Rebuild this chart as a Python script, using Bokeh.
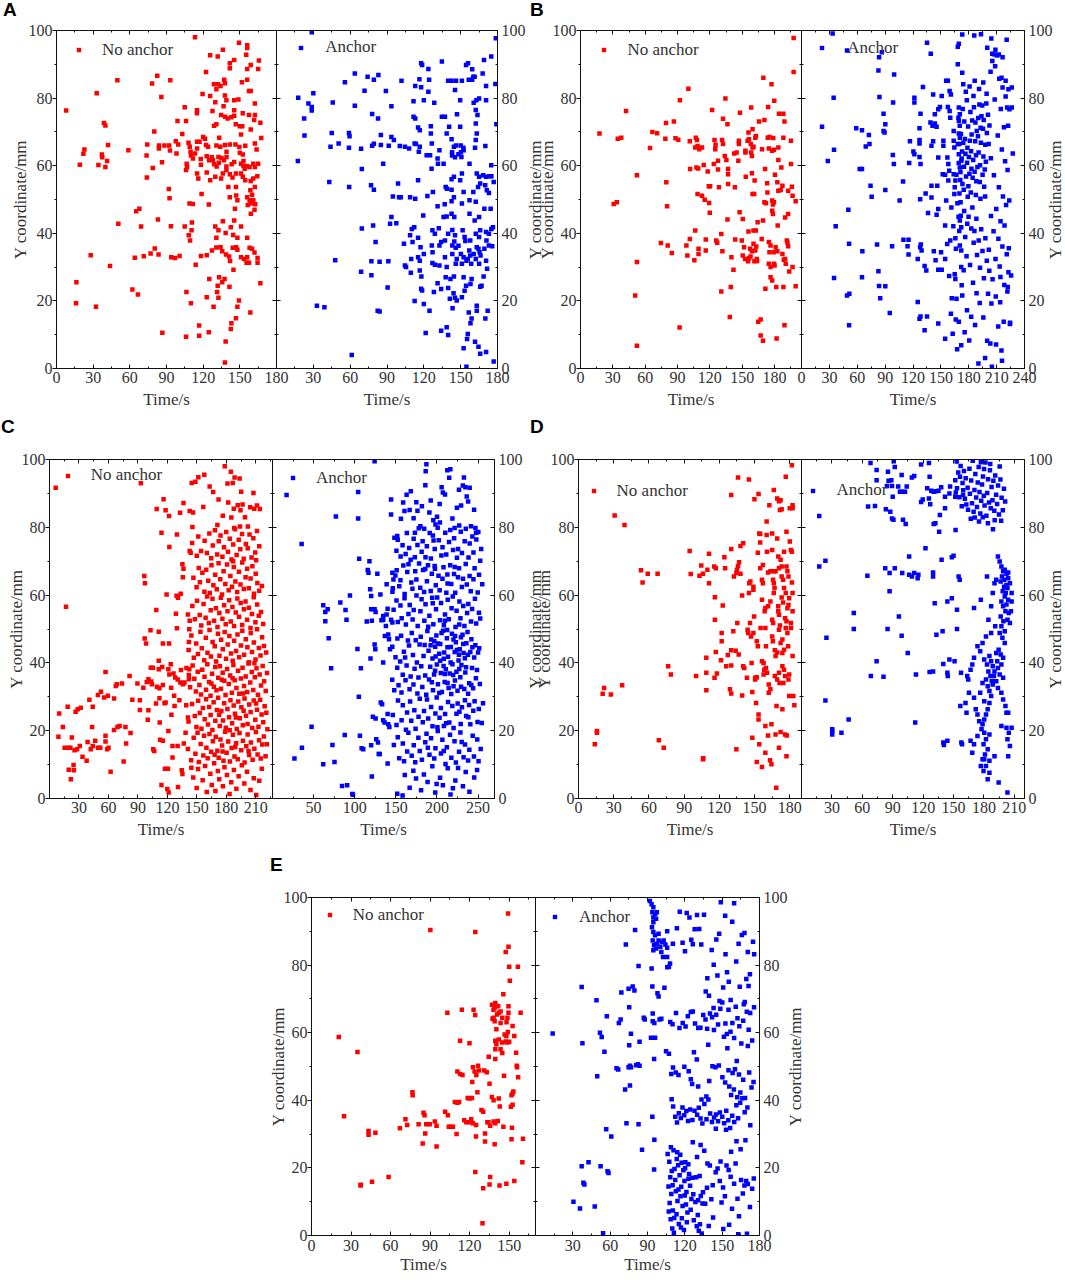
import math
from bokeh.plotting import figure
from bokeh.models import Range1d, LinearAxis, SingleIntervalTicker, FixedTicker, Legend, LegendItem, Spacer, Div
from bokeh.layouts import row, column
from bokeh.embed import file_html
from bokeh.resources import INLINE

SERIES_LABELS = ["No anchor", "Anchor"]
PANEL_LETTERS = ["A", "B", "C", "D", "E"]
X_TITLE = "Time/s"
Y_TITLE = "Y coordinate/mm"

# ---------------- data (Time/s, Y coordinate/mm) ----------------
A_NO = [(7.9,76.3),(16.3,25.5),(16.0,19.3),(19.1,60.3),(22.0,63.5),(22.8,64.8),(28.0,33.5),(32.3,18.3),(32.9,81.4),(34.3,60.2),(37.4,62.5),(37.1,63.3),(38.8,72.6),(40.0,71.9),(40.0,59.6),(41.4,61.4),(42.2,66.1),(43.8,30.3),(49.8,85.3),(50.6,42.8),(58.8,64.6),(62.1,23.4),(64.1,32.8),(65.2,46.5),(66.6,21.9),(67.8,47.3),(69.2,42.0),(71.4,33.2),(73.7,63.0),(73.9,56.5),(74.2,66.3),(77.0,34.0),(78.2,84.3),(78.8,59.3),(80.0,70.1),(80.4,35.5),(82.4,86.6),(83.0,44.1),(83.5,33.7),(83.8,66.0),(83.8,65.1),(85.8,80.3),(86.3,61.0),(86.6,10.6),(88.3,66.0),(91.9,53.1),(92.2,66.0),(92.5,50.4),(92.8,64.5),(93.1,85.3),(93.6,42.1),(93.9,32.9),(97.0,32.7),(97.6,67.2),(98.2,63.6),(99.0,73.2),(99.6,66.3),(100.7,33.3),(102.9,69.4),(104.9,77.3),(104.9,42.0),(106.0,73.2),(106.0,9.4),(106.3,22.6),(106.5,60.6),(106.8,59.6),(106.0,58.7),(108.0,66.8),(108.8,48.8),(108.2,39.4),(109.0,65.6),(109.7,64.1),(109.3,37.9),(110.0,63.0),(110.0,19.3),(110.8,43.2),(110.5,40.9),(111.6,62.1),(111.6,48.7),(113.3,98.0),(113.3,63.6),(113.9,30.7),(115.0,76.4),(114.9,75.5),(115.0,67.1),(115.0,65.1),(115.0,57.7),(116.0,56.2),(116.7,12.7),(116.7,9.7),(117.0,67.1),(118.0,62.0),(118.2,60.3),(118.2,33.3),(118.7,51.6),(119.5,81.2),(120.0,68.5),(121.5,68.0),(122.3,87.7),(122.3,66.1),(122.9,62.8),(122.9,58.0),(122.9,33.5),(122.9,21.1),(124.0,65.6),(124.6,48.5),(124.6,10.7),(124.9,61.6),(125.7,92.7),(125.7,80.6),(125.7,55.7),(125.0,26.5),(127.0,62.5),(127.2,34.9),(127.6,76.2),(128.0,61.6),(128.5,18.3),(128.8,84.1),(128.9,71.8),(129.0,60.4),(129.9,78.8),(129.9,56.7),(129.9,42.0),(130.8,82.6),(130.8,72.3),(130.8,66.0),(130.8,38.7),(130.8,35.8),(131.0,59.8),(131.4,22.6),(131.9,92.3),(131.9,24.5),(132.2,84.1),(132.5,62.6),(132.5,40.9),(132.5,20.9),(132.8,60.9),(133.0,27.0),(133.1,68.3),(134.0,65.6),(134.2,83.6),(134.2,35.9),(134.7,75.0),(134.7,56.2),(135.0,62.3),(135.6,34.7),(135.6,25.5),(136.1,94.3),(136.1,57.7),(136.1,43.6),(136.7,77.6),(137.0,61.6),(137.2,85.4),(137.5,26.5),(137.8,84.4),(137.8,80.8),(137.8,66.1),(137.8,1.8),(138.0,74.5),(138.4,40.1),(138.4,8.0),(138.7,33.7),(139.0,79.4),(139.1,64.1),(139.1,62.6),(139.0,59.8),(139.0,58.7),(140.0,74.0),(140.6,53.7),(141.2,33.1),(141.5,24.2),(141.8,90.3),(141.8,88.8),(141.8,66.3),(141.8,57.5),(141.8,50.7),(142.0,31.8),(142.6,41.8),(142.6,11.7),(143.0,74.3),(143.1,13.4),(143.3,60.4),(144.0,56.5),(144.2,35.7),(144.5,39.5),(144.8,29.2),(145.4,91.3),(145.4,79.4),(145.4,76.4),(145.4,74.8),(145.4,61.1),(145.4,43.8),(146.0,47.3),(146.4,66.3),(146.7,72.3),(146.8,57.7),(146.8,53.7),(146.8,14.9),(147.0,51.2),(147.0,35.9),(148.0,49.8),(148.0,38.7),(148.0,35.1),(148.0,18.3),(148.8,79.6),(149.3,20.1),(149.3,96.4),(149.6,65.5),(150.0,71.7),(150.0,63.8),(151.0,69.2),(151.0,60.6),(151.0,57.7),(151.0,42.0),(151.0,32.9),(151.7,84.7),(152.0,71.7),(152.4,75.5),(152.4,63.3),(152.4,56.7),(153.0,61.4),(153.0,59.9),(153.6,32.4),(154.0,59.1),(154.4,65.9),(154.4,55.7),(155.2,92.8),(155.5,31.3),(155.8,59.9),(156.0,95.6),(156.0,94.8),(156.0,88.6),(156.0,85.4),(156.0,50.7),(156.0,38.7),(156.0,32.9),(156.5,48.4),(157.5,82.1),(157.5,75.0),(157.5,31.3),(158.0,59.6),(158.0,49.8),(158.0,35.7),(158.6,52.7),(158.6,16.6),(158.9,89.8),(158.9,82.1),(158.9,70.7),(158.9,55.5),(158.9,48.8),(159.0,45.8),(160.0,51.4),(160.0,35.4),(161.0,60.6),(161.0,56.2),(161.0,49.8),(161.7,73.5),(162.0,47.0),(162.0,34.3),(162.3,78.4),(162.3,75.0),(162.3,66.6),(162.3,59.6),(162.3,53.7),(162.6,48.6),(163.7,64.8),(164.3,56.9),(164.5,31.3),(164.5,32.7),(165.0,88.6),(165.0,60.6),(165.6,91.1),(166.8,72.7),(166.8,25.2),(167.5,68.2)]

A_AN = [(17.7,80.1),(17.4,61.4),(22.5,74.0),(22.8,68.9),(26.0,78.4),(28.7,77.4),(28.7,76.3),(30.0,81.4),(28.7,99.5),(32.9,18.6),(39.0,18.1),(43.0,55.2),(45.0,69.7),(44.0,65.6),(45.8,78.7),(61.3,4.0),(47.8,32.0),(50.6,66.6),(55.7,84.7),(59.0,69.7),(59.5,68.7),(59.0,65.3),(59.2,53.7),(63.8,87.3),(63.8,77.7),(68.9,65.0),(69.5,59.0),(69.5,41.4),(68.9,28.6),(71.7,82.2),(74.2,86.3),(79.3,85.4),(83.0,86.8),(77.9,75.3),(77.9,65.9),(79.3,66.5),(77.0,54.2),(79.3,52.9),(78.7,42.3),(80.7,37.4),(77.3,31.7),(77.3,27.6),(82.7,74.0),(85.0,69.1),(85.0,66.1),(82.4,17.1),(84.0,16.9),(86.9,60.6),(84.0,31.6),(89.1,82.1),(91.4,65.9),(93.6,77.6),(93.6,68.5),(95.6,67.6),(93.6,44.8),(92.5,42.8),(90.5,24.0),(91.1,31.7),(94.8,50.9),(99.8,50.7),(97.6,43.0),(99.0,54.7),(100.4,65.8),(104.6,65.6),(101.8,85.1),(101.2,50.7),(103.8,36.9),(104.6,30.5),(105.5,30.0),(108.0,65.1),(108.8,50.7),(108.8,39.4),(110.2,41.3),(112.2,41.8),(109.7,32.4),(109.4,28.3),(110.8,37.4),(111.6,79.1),(111.6,74.5),(113.0,83.6),(113.0,74.0),(112.5,66.6),(113.6,66.4),(113.0,50.2),(112.5,20.0),(115.3,71.3),(116.7,70.5),(115.9,64.1),(116.7,65.6),(115.3,55.7),(115.3,38.7),(117.3,35.9),(115.3,32.9),(116.7,31.9),(116.7,29.0),(116.4,85.6),(117.8,83.2),(117.8,90.3),(118.6,89.8),(117.8,23.6),(118.6,23.1),(118.0,27.2),(120.0,19.1),(121.5,10.5),(119.5,45.3),(120.0,33.9),(120.0,79.4),(122.9,51.0),(122.3,63.1),(125.1,63.1),(123.7,81.9),(124.3,85.4),(123.7,88.6),(124.6,17.1),(125.7,71.7),(125.7,69.5),(126.3,59.1),(127.4,52.2),(126.5,66.6),(126.5,36.4),(127.1,34.4),(127.0,40.9),(129.0,39.9),(127.0,31.2),(129.0,30.7),(128.2,22.6),(128.5,78.6),(131.2,62.1),(131.5,60.6),(132.7,64.6),(131.2,48.0),(132.2,41.5),(132.7,36.4),(134.1,37.4),(132.7,30.5),(131.2,25.2),(134.1,23.5),(134.1,11.2),(134.7,74.5),(134.7,90.8),(136.1,60.6),(137.0,48.6),(138.6,45.0),(136.1,44.8),(137.8,53.7),(138.9,53.2),(137.2,74.5),(138.6,69.5),(137.2,37.9),(139.8,39.9),(137.2,32.9),(138.6,30.0),(137.8,27.0),(139.8,23.8),(141.2,20.6),(138.6,12.2),(139.8,9.9),(139.8,85.1),(142.6,85.1),(146.2,85.1),(140.6,71.5),(142.6,67.8),(144.5,65.6),(146.2,66.0),(143.0,64.0),(143.0,63.0),(145.4,62.5),(148.2,63.4),(150.2,64.0),(152.4,64.6),(150.0,66.0),(150.6,62.6),(152.2,65.3),(142.6,56.0),(144.5,56.7),(142.6,52.9),(142.6,49.5),(144.5,50.7),(142.6,45.8),(144.8,44.8),(143.2,41.0),(145.4,39.4),(144.8,37.6),(143.2,36.4),(146.0,35.7),(148.2,36.3),(143.2,33.9),(146.0,31.0),(146.8,32.4),(141.7,26.5),(144.5,27.2),(144.2,22.3),(145.4,20.9),(146.8,20.1),(143.4,17.8),(149.6,71.5),(147.0,75.2),(145.4,82.4),(149.6,79.4),(151.0,85.1),(151.0,57.7),(149.6,55.7),(152.4,52.2),(151.0,48.8),(151.6,40.9),(153.2,38.9),(153.8,37.7),(150.2,33.9),(152.4,32.9),(151.0,31.0),(154.7,31.9),(152.4,27.0),(154.4,24.5),(153.2,23.0),(151.0,21.1),(152.4,6.0),(154.4,89.8),(156.0,90.3),(156.6,85.4),(157.2,60.6),(157.2,49.8),(157.2,45.8),(157.8,37.9),(157.0,34.9),(157.8,33.4),(155.8,32.4),(158.6,31.0),(160.6,33.9),(158.9,26.5),(158.0,25.0),(156.6,16.6),(158.9,14.8),(158.0,13.4),(155.2,8.7),(155.8,10.2),(154.7,0.5),(159.4,88.5),(159.4,85.4),(160.3,86.3),(161.4,86.3),(160.6,78.6),(162.8,79.4),(165.0,79.9),(162.3,76.5),(163.7,75.0),(162.3,72.5),(163.1,69.5),(162.3,67.6),(161.7,65.3),(163.1,57.7),(165.0,56.7),(165.9,54.7),(164.2,53.7),(160.3,52.2),(162.3,49.3),(161.4,43.8),(165.0,44.8),(165.9,40.9),(162.3,39.9),(165.0,38.9),(163.1,35.9),(164.5,35.4),(165.4,34.4),(166.2,33.4),(162.3,32.4),(165.0,31.0),(165.9,24.2),(167.0,24.5),(163.1,18.6),(163.1,17.1),(161.7,7.9),(164.5,6.4),(165.9,4.4),(169.0,91.3),(167.9,87.3),(170.7,83.6),(170.7,79.4),(170.1,65.8),(168.4,57.2),(170.7,56.7),(173.5,56.9),(175.0,56.9),(170.0,54.2),(171.3,52.7),(173.0,51.9),(169.3,47.3),(174.4,47.3),(170.7,40.4),(173.0,39.9),(175.0,41.3),(171.0,37.9),(169.3,35.4),(173.0,36.4),(170.7,31.9),(171.5,29.5),(168.7,27.2),(170.1,14.8),(172.0,17.1),(170.7,4.9),(174.9,92.3),(178.6,97.7),(178.3,84.2),(179.1,72.3),(174.9,60.1),(176.9,55.2),(176.3,41.8),(175.7,36.2),(176.9,2.1)]

B_NO = [(17.6,69.5),(30.8,48.7),(33.7,49.2),(34.6,68.0),(37.8,68.3),(42.2,76.2),(50.7,21.6),(52.3,6.7),(52.3,31.5),(52.3,57.2),(64.5,65.2),(66.7,70.0),(71.1,69.6),(74.6,37.1),(79.3,72.6),(78.7,68.0),(79.6,55.1),(80.3,48.0),(80.9,36.4),(84.7,34.2),(86.6,73.1),(88.1,68.1),(90.7,67.7),(92.2,79.4),(91.9,12.1),(100.1,82.8),(101.4,67.2),(101.7,59.0),(98.2,36.4),(99.1,33.4),(101.4,38.3),(105.6,32.0),(106.4,40.8),(107.0,68.3),(108.0,67.6),(106.4,65.4),(108.6,65.8),(107.6,59.5),(109.2,59.2),(108.6,51.6),(112.7,51.1),(109.5,35.4),(109.5,33.9),(112.7,65.4),(110.2,64.9),(114.3,60.2),(115.2,49.9),(116.2,38.2),(116.2,34.9),(118.0,58.3),(119.0,53.9),(120.2,53.9),(119.3,49.0),(119.9,46.1),(122.1,76.5),(123.7,60.5),(124.3,67.6),(125.3,66.2),(125.0,64.9),(125.9,37.9),(126.8,37.2),(127.5,61.5),(127.5,58.9),(128.4,53.6),(130.6,22.8),(130.6,39.8),(131.6,34.7),(131.3,67.6),(132.2,66.4),(132.2,73.9),(134.4,79.9),(133.8,62.9),(135.3,61.7),(136.3,72.3),(136.9,59.0),(136.9,57.5),(136.9,54.6),(136.3,44.1),(138.5,15.2),(139.4,24.1),(140.0,32.9),(141.9,29.2),(142.6,63.6),(144.8,63.9),(143.2,53.6),(143.5,38.2),(146.4,61.5),(146.9,67.4),(146.9,66.4),(147.9,75.7),(147.6,46.2),(150.5,44.2),(149.6,37.9),(150.5,33.4),(152.7,32.4),(151.7,35.9),(153.3,56.7),(153.0,63.9),(153.0,64.4),(155.0,67.4),(156.3,67.8),(155.8,69.8),(155.8,40.5),(155.5,31.7),(156.4,32.6),(157.7,33.1),(157.4,35.4),(159.0,34.7),(158.0,66.4),(159.6,65.4),(158.3,63.9),(158.3,77.2),(159.6,70.8),(159.0,62.9),(159.0,57.8),(160.5,65.6),(162.1,68.3),(159.6,51.6),(161.1,51.6),(160.5,40.8),(160.5,36.9),(163.0,36.1),(162.1,34.9),(163.5,32.4),(161.3,31.7),(163.8,31.8),(161.5,55.6),(162.7,68.8),(164.3,43.3),(162.7,40.8),(164.9,13.8),(167.1,14.5),(165.6,73.1),(167.1,9.8),(169.3,8.2),(168.1,38.3),(168.4,64.9),(169.3,43.8),(170.6,49.2),(169.6,86.0),(170.6,73.5),(171.2,59.0),(171.5,23.6),(172.0,48.9),(173.4,52.1),(173.1,54.8),(173.7,68.3),(175.3,68.5),(174.0,77.4),(174.7,65.1),(174.7,37.4),(176.3,36.4),(175.3,34.4),(174.7,31.0),(176.3,30.0),(176.3,27.0),(177.8,26.0),(177.2,84.1),(177.8,49.7),(178.5,48.5),(179.4,49.2),(177.8,46.7),(178.5,45.7),(177.8,64.4),(179.4,64.7),(178.8,68.2),(179.7,79.2),(180.4,57.3),(181.0,35.9),(180.0,30.5),(179.4,31.0),(179.4,34.4),(182.6,34.7),(181.6,24.1),(181.9,8.9),(182.6,55.1),(183.5,52.6),(183.5,61.7),(182.9,42.3),(183.5,65.4),(184.1,75.4),(188.2,75.4),(185.7,52.8),(187.3,54.1),(186.3,59.5),(187.3,33.9),(188.6,32.2),(189.8,32.4),(189.2,73.1),(188.2,68.3),(188.2,24.1),(189.2,12.8),(189.8,44.7),(190.4,31.0),(191.4,37.9),(192.6,36.2),(192.0,37.2),(192.6,52.6),(192.6,45.7),(193.6,28.7),(195.2,60.5),(195.2,67.4),(196.1,53.8),(196.7,51.1),(196.7,30.0),(197.7,87.7),(197.7,97.8),(199.6,49.5),(199.6,24.3)]

B_AN = [(22.1,71.5),(28.3,61.4),(33.5,99.1),(34.6,80.1),(35.0,64.7),(35.0,26.8),(36.8,42.1),(49.0,94.1),(50.4,47.0),(49.0,21.6),(51.5,22.1),(51.2,36.9),(51.2,12.8),(58.9,71.1),(62.6,59.0),(65.1,59.0),(65.1,70.5),(65.1,27.0),(65.5,34.7),(69.2,65.7),(72.5,69.1),(73.2,66.4),(74.3,54.1),(75.5,50.8),(81.3,36.7),(82.8,88.2),(83.5,92.1),(83.9,80.3),(82.8,28.8),(83.5,24.4),(84.7,20.8),(86.5,93.6),(88.3,75.4),(88.3,70.3),(89.4,69.8),(90.2,72.3),(90.2,52.8),(90.2,24.3),(95.0,16.4),(98.3,63.2),(99.4,60.5),(99.7,87.0),(98.6,78.7),(97.5,36.2),(105.6,49.7),(109.3,55.3),(109.7,38.1),(114.1,36.2),(115.2,33.7),(115.2,38.1),(115.9,60.8),(116.7,67.2),(120.4,64.2),(121.5,63.4),(121.5,80.1),(121.5,78.7),(125.1,32.4),(125.1,19.7),(127.0,66.6),(127.0,67.6),(127.0,71.1),(128.1,75.4),(127.0,62.6),(128.1,60.5),(127.7,50.1),(127.7,35.9),(128.4,36.7),(129.2,34.9),(127.0,14.7),(128.1,15.4),(130.7,83.3),(132.5,30.3),(134.3,29.0),(132.5,11.3),(133.6,51.8),(135.1,96.4),(135.1,15.4),(136.2,46.0),(139.1,93.1),(139.9,54.1),(139.9,50.6),(139.9,65.9),(141.7,67.2),(138.8,72.8),(141.0,71.8),(143.5,72.5),(145.4,71.5),(141.7,81.1),(143.5,75.2),(142.4,34.7),(144.3,32.0),(145.4,45.5),(147.2,47.2),(146.1,54.1),(147.2,62.4),(147.2,29.2),(147.2,76.7),(149.0,77.4),(147.2,13.3),(150.2,34.4),(150.9,29.2),(150.9,80.6),(152.7,67.4),(152.7,65.9),(152.0,57.5),(154.6,57.3),(154.6,8.8),(155.7,85.1),(157.5,85.1),(154.6,42.3),(154.6,32.4),(155.7,49.7),(157.0,62.4),(158.0,60.5),(159.0,58.5),(158.0,55.6),(157.5,77.4),(159.4,76.2),(160.1,74.2),(159.4,82.1),(160.8,81.1),(160.1,37.9),(160.8,16.2),(162.7,10.3),(163.8,70.3),(163.8,67.4),(164.5,65.4),(163.8,57.5),(165.6,55.6),(164.9,53.6),(164.5,51.6),(165.6,26.5),(165.6,38.5),(166.8,20.6),(166.0,14.5),(167.5,5.7),(168.2,95.2),(169.3,96.1),(168.2,90.0),(169.3,77.2),(170.4,75.2),(169.3,73.3),(169.3,69.5),(170.4,68.3),(169.8,66.4),(169.3,63.4),(171.9,61.5),(170.4,59.5),(170.0,51.8),(171.2,49.2),(169.0,44.9),(170.4,43.8),(171.9,41.8),(170.4,36.4),(171.9,34.9),(171.9,30.0),(171.9,6.9),(173.0,21.6),(173.0,98.8),(173.0,87.5),(174.1,84.1),(227.4,63.6),(224.5,13.5),(225.6,27.5),(222.0,24.1),
(173.5,76.8),(175.2,73.1),(177.9,79.4),(179.3,71.6),(181.8,75.9),(183.1,69.2),(185.6,77.3),(187.2,72.8),(189.9,68.7),(191.4,78.1),(193.7,74.6),(195.3,70.9),(197.8,66.2),(171.6,69.4),(174.1,66.8),(176.4,63.5),(178.2,60.9),(180.7,57.6),(182.5,64.3),(184.8,61.7),(186.3,58.2),(188.1,55.4),(190.6,63.9),(192.2,60.1),(194.9,57.3),(196.6,53.8),(198.4,61.2),(168.9,74.2),(170.3,71.8),(172.8,64.2),(174.9,59.7),(177.1,56.8),(179.6,53.9),(181.2,67.4),(183.7,73.4),(185.1,80.6),(187.8,63.1),(189.3,59.6),(191.9,55.2),(193.1,66.8),(195.8,62.7),(197.2,58.9),(199.5,69.7),(166.7,57.3),(169.2,60.8),(171.1,58.1),(173.2,54.6),(175.9,67.9),(178.6,65.3),(180.1,62.6),(182.9,59.1),(184.2,56.4),(186.9,67.2),(188.6,70.3),(190.2,74.1),(192.8,71.2),(194.4,77.8),(196.1,73.5),(198.9,78.4),(200.7,75.1),(202.3,71.9),(201.4,66.4),(203.8,62.2),(176.8,81.9),(180.9,83.4),(186.4,85.1),(191.1,82.7),(195.6,84.6),(199.2,81.3),(168.3,66.4),(172.4,62.1),(170.9,55.8),(174.6,52.9),(178.9,50.8),(182.2,52.1),(187.6,51.3),(192.6,50.2),(197.6,50.9),
(205.2,93.1),(208.4,89.4),(210.6,92.6),(203.5,87.8),(212.8,85.7),(216.4,83.1),(219.7,80.5),(221.3,77.2),(214.5,76.8),(207.9,79.6),(217.9,71.4),(222.4,71.8),(211.2,68.9),(215.6,64.8),(219.1,61.3),(221.8,58.7),(207.1,57.2),(212.4,53.6),(216.8,50.9),(220.2,48.4),(223.6,49.7),(209.6,47.2),(203.9,45.1),(214.2,43.6),(218.5,42.3),(206.7,40.6),(211.9,38.4),(216.2,36.1),(220.9,33.8),(223.1,35.6),(208.8,32.4),(213.3,30.2),(202.1,28.9),(205.6,26.4),(218.3,24.7),(221.6,22.8),(209.1,21.3),(213.8,19.6),(204.4,19.2),(200.8,22.1),(196.3,26.7),(192.1,29.8),(188.9,33.6),(185.3,37.2),(182.7,41.4),(179.8,44.9),(183.9,47.6),(188.2,44.3),(193.4,41.2),(197.9,38.5),(201.6,35.1),(199.4,31.9),(194.8,34.8),(190.7,37.9),(186.1,40.7),(181.4,30.6),(177.6,33.2),(176.2,38.9),(178.4,42.8),(175.1,46.6),(184.6,25.4),(188.4,22.3),(191.8,19.4),(195.7,15.1),(199.8,8.2),(203.2,7.4),(209.4,7.1),(215.2,5.3),(215.8,2.3),(197.6,3.1),(190.4,1.5),(204.9,0.5),(211.7,12.4),(217.6,13.8),(224.3,13.2),(222.7,28.5),(214.1,27.1),(178.1,17.2),(182.6,15.3),(186.8,12.9),(175.6,10.7),(180.5,8.3),(169.3,13.8),(172.4,24.6),(174.5,29.1),(166.2,35.4),(169.8,40.7),(171.4,45.2),(167.8,48.9),(163.4,42.1),(161.3,47.6),(164.9,27.9),(161.7,20.8),(158.9,27.4),(156.8,36.8),
(185.9,98.5),(193.2,98.9),(199.9,94.9),(208.7,94.3),(207.9,92.9),(212.4,92.9),(216.4,92.1),(220.8,97.3),(204.3,97.6),(205.4,91.0),(215.3,86.0),(219.7,85.1),(222.7,82.6),(226.3,83.1),(223.8,76.7),(226.3,77.2)]

C_NO = [(6.3,91.7),(16.8,56.6),(9.8,25.1),(9.1,18.2),(13.6,21.1),(15.4,15.0),(18.9,15.0),(21.3,15.0),(18.5,27.1),(19.6,8.5),(21.7,5.7),(22.7,18.0),(24.5,9.9),(24.8,8.3),(26.6,25.6),(28.7,26.3),(31.8,26.8),(25.5,14.2),(28.0,14.5),(30.8,15.5),(33.6,12.3),(37.8,11.1),(38.8,16.7),(42.0,14.5),(44.0,15.5),(40.6,29.1),(43.4,21.1),(44.0,27.1),(46.5,17.0),(49.3,15.0),(51.7,15.0),(49.3,30.5),(52.4,31.5),(55.6,29.8),(57.0,18.5),(57.0,16.8),(58.7,14.5),(60.1,15.0),(57.0,37.3),(62.2,7.9),(59.4,30.3),(65.7,29.5),(67.5,33.2),(68.5,33.7),(65.7,20.2),(69.2,21.1),(71.3,21.4),(73.8,33.9),(75.5,10.9),(78.0,16.2),(77.3,21.1),(81.5,36.1),(82.5,19.3),(84.3,29.1),(89.5,33.9),(92.0,26.1),(92.0,29.0),(93.0,93.0),(95.5,32.7),(96.5,65.6),(97.2,63.5),(96.9,47.2),(98.3,45.7),(100.0,23.2),(100.7,26.0),(99.0,34.4),(100.7,35.2),(103.5,34.5),(102.8,49.6),(103.1,38.6),(105.2,38.6),(104.2,33.7),(105.6,14.5),(106.6,14.0),(108.4,28.0),(108.7,55.6),(109.1,85.4),(109.4,33.0),(111.9,32.5),(111.2,49.2),(111.2,40.6),(111.2,38.1),(111.9,29.6),(112.2,22.4),(112.6,17.3),(114.0,78.4),(114.0,4.0),(115.4,45.7),(114.7,38.8),(115.4,17.0),(115.4,33.5),(116.1,88.3),(117.1,28.1),(118.2,28.3),(117.5,8.8),(120.6,8.8),(118.2,85.0),(119.2,60.2),(119.9,2.8),(121.3,1.8),(121.0,19.9),(121.7,83.3),(121.7,45.7),(122.0,74.2),(121.0,38.1),(122.0,36.6),(123.4,39.6),(123.8,32.7),(124.1,24.7),(125.2,15.5),(125.2,12.1),(126.2,36.9),(128.0,35.7),(126.9,30.3),(127.3,27.3),(128.7,54.5),(129.4,59.8),(130.8,59.2),(129.7,77.9),(129.7,50.2),(130.4,15.5),(130.8,3.4),(132.2,29.0),(133.2,34.2),(132.9,84.3),(133.6,60.4),(134.6,8.3),(135.3,7.2),(135.3,69.1),(136.4,67.8),(135.7,65.3),(136.4,87.2),(135.7,33.7),(137.4,34.2),(136.7,16.2),(138.5,19.4),(139.2,27.5),(140.9,54.3),(142.7,52.4),(140.9,23.9),(142.3,49.9),(141.9,46.2),(142.3,38.1),(141.9,35.2),(142.7,84.8),(142.7,73.0),(143.7,72.5),(144.4,9.1),(144.8,93.1),(145.5,80.1),
(146.3,6.2),(149.8,3.1),(151.2,8.7),(155.9,5.4),(158.4,9.6),(160.1,1.9),(163.7,7.3),(165.2,4.0),(168.9,2.2),(171.4,8.1),(172.8,5.7),(176.5,3.6),(178.1,9.2),(180.6,6.9),(183.3,1.3),(185.0,4.8),(187.7,8.4),(190.2,2.9),(192.5,6.6),(195.8,9.8),(198.3,4.4),(201.0,7.9),(204.6,2.5),(207.9,6.0),(213.5,5.2),(216.1,8.8),(210.4,1.0),
(140.9,14.6),(144.2,11.3),(146.8,17.9),(148.5,13.2),(150.7,19.4),(152.0,10.8),(153.9,16.1),(156.6,12.7),(157.3,18.5),(159.7,15.0),(161.0,11.9),(162.8,19.0),(164.5,13.8),(166.3,16.9),(167.6,10.4),(169.2,18.2),(170.9,14.1),(172.2,12.0),(174.0,17.4),(175.7,15.6),(177.1,11.1),(178.8,19.7),(180.3,13.5),(181.9,16.8),(183.6,10.9),(185.4,14.9),(186.7,18.8),(188.3,12.4),(190.0,16.3),(191.6,11.6),(193.4,19.3),(195.1,14.2),(196.9,17.0),(198.6,10.6),(200.3,15.4),(201.7,18.9),(203.2,12.8),(205.0,16.5),(206.8,11.4),(208.5,14.7),(210.1,19.6),(211.8,13.0),(213.3,17.2),(215.0,11.8),(216.6,15.9),(218.2,18.3),(219.9,12.5),(221.2,16.0),(176.2,13.9),(189.1,15.2),(202.6,14.0),(168.1,12.9),
(141.5,22.7),(145.1,27.9),(147.9,24.3),(149.6,21.1),(151.3,28.8),(153.0,25.2),(154.7,20.6),(156.1,26.7),(158.0,23.4),(159.4,29.3),(161.3,21.8),(162.5,27.0),(164.0,24.6),(165.8,20.2),(167.1,28.4),(168.8,22.9),(170.4,26.1),(171.6,29.7),(173.3,21.4),(174.9,25.8),(176.6,23.0),(177.8,28.1),(179.5,20.9),(181.1,26.4),(182.8,24.0),(184.2,29.0),(185.9,22.2),(187.5,27.4),(188.8,25.0),(190.6,20.5),(192.1,28.6),(193.7,23.7),(195.3,26.9),(196.8,21.6),(198.5,29.5),(200.0,24.4),(201.6,22.0),(203.3,27.7),(204.7,25.5),(206.4,20.8),(207.9,28.9),(209.5,23.2),(211.2,26.2),(212.7,21.2),(214.4,29.1),(215.9,24.8),(217.6,22.5),(219.0,27.2),(220.7,25.3),(221.8,20.4),(183.4,20.1),(172.7,24.7),(197.6,25.9),(189.7,23.9),(210.3,28.0),
(130.5,35.1),(133.8,37.9),(136.2,34.0),(139.4,38.5),(141.8,36.4),(143.1,32.8),(145.7,39.2),(147.4,35.3),(149.0,31.6),(150.9,37.4),(152.6,33.5),(154.2,30.7),(155.5,38.0),(157.8,35.9),(159.3,32.1),(160.6,39.6),(162.4,34.4),(163.9,30.3),(165.5,36.8),(167.3,33.0),(168.7,38.8),(170.0,31.9),(171.8,35.6),(173.4,39.0),(174.6,32.4),(176.3,37.1),(177.9,34.7),(179.2,30.5),(180.8,38.2),(182.5,33.8),(183.9,36.3),(185.6,31.2),(187.2,39.4),(188.5,34.9),(190.3,32.6),(191.9,37.7),(193.2,30.9),(194.8,35.4),(196.5,38.6),(198.0,33.2),(199.7,36.0),(201.3,31.4),(202.6,39.8),(204.3,34.2),(205.9,37.3),(207.4,32.0),(209.0,35.8),(210.7,38.4),(212.2,30.6),(213.9,36.6),(215.3,33.3),(217.0,39.1),(218.5,34.6),(220.1,31.7),(221.4,37.0),(186.4,35.5),(197.1,31.0),(175.4,35.0),(208.6,39.9),(164.8,33.9),
(141.6,43.8),(144.4,48.1),(146.9,41.5),(149.3,45.7),(151.1,42.6),(153.6,49.2),(155.0,44.3),(157.5,40.8),(159.1,47.4),(160.8,43.0),(162.9,49.7),(164.3,41.9),(166.0,46.2),(168.2,44.9),(169.6,40.4),(171.5,48.6),(173.0,42.1),(174.7,46.8),(176.4,44.0),(178.3,49.1),(179.7,41.2),(181.4,45.4),(183.1,47.9),(184.8,42.8),(186.5,40.6),(188.0,46.5),(189.9,43.5),(191.4,48.4),(193.0,41.7),(194.9,45.1),(196.3,49.5),(198.1,42.4),(199.8,47.0),(201.4,44.6),(203.0,40.2),(204.9,48.8),(206.2,43.2),(208.0,46.0),(209.7,41.0),(211.3,49.9),(213.1,44.4),(214.8,42.2),(216.4,47.6),(218.3,45.0),(220.6,43.1),
(145.4,56.8),(148.0,52.9),(150.2,58.3),(152.9,54.1),(154.5,51.0),(156.8,57.4),(158.9,53.3),(160.4,59.6),(162.2,51.8),(164.1,55.5),(165.9,58.9),(167.5,52.4),(169.4,56.1),(171.0,50.6),(172.9,54.7),(174.4,59.2),(176.0,53.0),(177.7,57.0),(179.4,51.4),(181.2,55.2),(182.9,58.5),(184.5,52.2),(186.2,56.5),(187.9,50.9),(189.6,54.9),(191.2,59.0),(192.9,53.6),(194.6,57.7),(196.1,51.2),(197.9,55.8),(199.5,58.1),(201.1,52.7),(202.9,56.3),(204.6,50.3),(206.1,54.4),(207.9,59.4),(209.6,52.0),(211.4,57.2),(213.0,53.9),(215.3,55.0),(217.5,51.5),
(146.5,65.1),(149.7,62.3),(151.9,68.0),(153.1,63.8),(155.6,66.6),(157.7,61.0),(159.5,67.5),(161.6,64.2),(163.2,60.6),(164.9,68.8),(166.8,62.9),(168.6,66.0),(170.3,61.7),(172.1,69.4),(173.8,64.7),(175.6,60.2),(177.2,67.0),(179.0,63.3),(180.7,69.0),(182.4,61.4),(184.1,65.6),(185.8,62.5),(187.6,68.3),(189.2,64.0),(191.0,60.9),(192.8,66.9),(194.4,63.1),(196.2,69.6),(197.8,61.8),(199.6,65.3),(201.2,67.8),(202.9,62.0),(204.7,64.9),(206.5,68.5),(208.1,60.4),(209.9,66.3),(211.6,63.6),(213.4,61.3),(216.2,62.7),(186.9,70.0),
(145.2,75.4),(149.9,71.6),(151.4,77.3),(154.3,73.0),(157.9,76.0),(160.2,72.4),(162.7,78.2),(164.6,70.9),(166.2,74.6),(168.4,79.1),(170.7,72.0),(172.3,75.9),(174.1,77.6),(176.0,71.3),(177.6,74.1),(179.9,78.6),(181.7,72.8),(183.5,76.6),(185.3,70.5),(187.0,74.9),(188.9,79.4),(190.5,71.8),(192.6,76.3),(194.2,73.5),(196.0,78.0),(197.7,70.7),(199.9,75.1),(201.8,73.8),(203.6,77.9),(205.7,71.1),(207.5,76.8),(209.4,72.6),(211.2,78.9),(213.5,74.4),(210.3,70.3),
(146.2,84.4),(148.5,93.4),(151.5,94.8),(156.5,86.0),(157.6,95.5),(163.0,92.0),(166.6,90.4),(170.9,80.7),(172.1,88.2),(176.4,83.4),(178.4,98.0),(181.2,92.9),(181.9,87.3),(184.6,96.4),(185.1,82.9),(186.5,93.1),(187.6,85.5),(188.4,94.7),(191.6,86.5),(193.5,94.4),(194.4,85.0),(195.1,90.5),(196.5,86.7),(199.0,83.0),(201.9,80.2),(204.2,85.9),(207.6,90.1),(208.4,85.5),(211.2,86.4),(214.1,85.4),(193.9,80.2),(188.0,79.8)]

C_AN = [(17.1,89.5),(26.7,11.8),(35.4,75.1),(35.8,15.0),(47.5,21.2),(61.7,10.1),(61.7,57.0),(64.2,55.0),(67.1,55.8),(64.2,52.3),(68.3,47.3),(71.3,38.4),(72.9,15.8),(75.4,10.8),(77.1,83.2),(82.5,57.8),(84.6,3.7),(90.8,3.9),(87.9,18.7),(88.8,55.6),(90.0,52.7),(94.2,59.9),(97.1,1.3),(97.9,1.1),(104.2,90.4),(104.2,82.6),(103.3,44.1),(105.0,30.0),(105.4,70.7),(107.5,38.4),(106.3,18.5),(108.4,14.8),(110.4,14.5),(114.6,52.2),(116.7,66.6),(115.8,67.4),(117.9,70.0),(118.8,61.7),(120.0,59.7),(119.2,41.3),(120.0,55.8),(120.8,52.4),(120.0,15.7),(120.8,6.5),(122.1,24.1),(124.2,45.4),(125.0,44.0),(125.4,55.0),(124.2,55.8),(125.4,23.6),(126.2,17.5),(128.3,16.5),(127.5,66.3),(124.2,99.5),(129.2,13.1),(130.4,13.1),(131.2,60.2),(131.7,28.3),(133.3,27.8),(132.5,52.6),(134.6,52.7),(134.6,53.8),(134.6,40.1),(134.6,23.1),(136.3,22.4),(136.7,47.9),(137.9,50.9),(138.8,54.3),(140.0,56.0),(138.8,63.2),(140.0,10.3),(140.0,24.9),(140.8,48.4),(140.8,21.9),(142.1,21.1),(141.7,47.0),(142.9,44.0),(144.2,52.7),(145.8,51.9),(144.2,88.2),(144.2,83.8),(145.8,66.6),(147.1,64.6),(146.3,62.0),
(151.7,1.4),(158.2,0.9),(160.9,6.9),(166.8,3.2),(171.3,8.2),(174.6,5.9),(180.7,2.4),(184.1,7.1),(188.6,4.9),(194.4,9.5),(197.9,1.8),(203.8,6.1),(207.2,3.9),(213.1,8.9),(216.5,1.2),(222.4,5.3),(225.7,9.0),(231.6,3.6),(235.0,7.8),(239.5,2.0),(245.3,6.2),(248.8,8.4),(199.6,4.3),(219.4,3.0),
(147.6,15.8),(152.3,18.1),(154.1,11.9),(158.5,16.2),(160.0,11.0),(163.8,13.9),(165.2,19.4),(169.3,12.6),(171.8,15.7),(173.6,10.7),(177.4,17.9),(179.1,14.0),(181.7,11.4),(185.8,16.6),(187.3,19.1),(190.9,12.9),(192.8,17.8),(196.7,11.8),(198.2,14.8),(201.0,19.9),(204.9,13.3),(206.6,17.3),(210.4,10.2),(212.0,15.1),(215.9,18.8),(217.5,12.0),(221.4,16.9),(223.0,10.6),(226.9,13.8),(228.5,19.5),(232.4,12.2),(234.1,15.9),(237.9,11.2),(239.4,14.4),(243.5,18.5),(245.0,12.4),(249.0,17.4),(250.6,11.0),(253.2,14.6),(208.3,14.0),(230.1,16.7),(188.9,15.0),
(146.3,24.6),(150.8,21.7),(152.6,28.9),(157.0,23.1),(158.5,27.5),(162.3,20.3),(163.7,25.4),(167.4,28.6),(168.8,22.9),(172.5,26.0),(174.0,20.6),(177.6,24.1),(179.1,29.4),(182.8,22.5),(184.3,25.8),(187.9,29.2),(189.3,23.6),(192.9,27.0),(194.6,21.3),(198.1,25.1),(199.7,29.8),(203.2,23.8),(204.8,26.7),(208.4,21.4),(209.9,24.9),(213.5,28.5),(215.0,22.4),(218.7,27.3),(220.2,20.8),(223.8,25.0),(225.2,28.0),(228.9,22.0),(230.4,26.9),(234.0,29.0),(235.5,24.3),(239.1,27.6),(240.6,21.9),(244.2,25.9),(245.8,28.7),(249.4,22.6),(250.9,26.4),(200.6,21.0),(211.1,22.2),(227.3,25.6),(238.2,24.0),(254.5,22.3),(256.0,28.1),
(145.6,35.0),(148.1,31.9),(151.7,38.6),(153.3,33.4),(156.9,31.3),(158.4,36.5),(161.8,34.9),(163.1,39.2),(166.7,32.2),(168.0,36.0),(171.4,33.6),(172.8,38.3),(176.2,31.0),(177.5,35.7),(180.9,39.0),(182.2,32.9),(185.7,36.3),(187.0,30.6),(190.4,35.1),(191.8,38.9),(195.2,31.9),(196.5,36.6),(199.9,39.5),(201.2,33.7),(204.7,37.0),(206.0,31.4),(209.4,34.4),(210.8,38.1),(214.2,32.6),(215.5,36.9),(218.9,39.6),(220.2,33.1),(223.7,37.4),(225.0,31.8),(228.4,35.8),(229.8,39.4),(233.2,32.3),(234.5,37.2),(237.9,30.9),(239.2,34.0),(242.7,38.5),(244.0,32.5),(247.4,35.5),(248.7,37.9),(252.2,33.8),(202.8,31.1),(209.6,36.7),(217.4,30.8),(221.9,34.8),(229.3,33.0),(235.4,38.7),(208.1,39.1),(219.7,36.4),(197.7,37.7),(227.1,38.2),(241.8,33.5),(212.9,34.1),(193.8,34.3),
(145.7,44.8),(149.6,41.7),(151.9,47.2),(155.3,40.4),(156.4,48.0),(159.8,43.3),(161.3,41.6),(164.7,46.6),(166.0,45.1),(169.4,48.8),(170.8,42.3),(174.2,46.7),(175.6,40.1),(178.9,45.4),(180.3,47.7),(183.7,42.0),(185.0,45.3),(188.4,49.4),(189.8,43.6),(193.1,46.9),(194.6,41.3),(197.9,44.8),(199.3,48.1),(202.7,42.7),(204.0,45.6),(207.4,49.5),(208.8,43.1),(212.1,47.3),(213.5,41.8),(216.9,44.7),(218.2,48.6),(221.6,43.2),(223.0,46.1),(226.3,40.7),(227.7,44.0),(231.1,48.3),(232.4,42.9),(235.8,45.8),(237.2,49.1),(240.6,43.2),(241.9,47.0),(245.3,41.6),(246.7,45.2),(250.0,43.1),(251.4,44.3),(196.8,46.4),(201.2,45.7),(208.3,41.2),(212.8,44.6),(220.1,46.9),(224.4,43.8),(231.9,45.6),(237.7,42.4),(205.6,48.8),(216.7,40.1),(229.2,47.6),(234.0,41.4),(198.4,41.9),(212.4,49.7),(222.1,47.9),(203.9,40.6),(226.8,42.4),(192.3,45.2),(243.1,44.6),
(147.3,55.7),(150.8,58.4),(152.4,52.1),(155.6,56.9),(157.1,53.2),(160.6,59.1),(162.2,51.3),(165.3,54.4),(166.9,57.1),(170.4,52.8),(171.7,55.6),(175.1,59.9),(176.6,50.9),(179.9,55.2),(181.3,58.8),(184.7,52.4),(186.1,57.3),(189.4,50.7),(190.8,53.9),(194.2,59.2),(195.6,51.4),(198.9,55.8),(200.3,59.3),(203.7,52.6),(205.0,57.7),(208.4,51.1),(209.8,54.3),(213.1,58.6),(214.4,52.9),(217.8,56.1),(219.2,59.6),(222.6,50.6),(223.9,55.4),(227.3,58.1),(228.6,53.2),(232.0,56.8),(233.4,50.9),(236.7,54.7),(238.1,57.4),(241.4,52.2),(242.8,55.9),(246.2,58.9),(247.7,51.6),(251.1,54.8),(252.6,53.1),(194.9,57.6),(209.7,52.4),(227.1,51.3),
(145.9,61.0),(149.4,65.8),(151.0,67.3),(154.2,62.6),(155.6,64.4),(159.1,68.7),(160.7,60.3),(163.9,66.8),(165.4,69.1),(168.8,63.7),(170.2,61.9),(173.6,67.0),(175.0,64.6),(178.3,69.3),(179.7,62.2),(183.1,67.4),(184.4,60.9),(187.8,64.1),(189.1,68.8),(192.4,61.2),(193.8,66.3),(197.2,68.6),(198.6,62.9),(201.9,65.7),(203.3,61.4),(206.7,64.8),(208.0,68.2),(211.4,60.7),(212.7,66.1),(216.1,68.8),(217.4,63.3),(220.8,66.2),(222.2,60.7),(225.6,65.3),(226.9,67.9),(230.3,62.4),(231.7,64.8),(235.0,69.2),(236.3,63.1),(239.7,65.6),(241.1,61.1),(244.4,64.7),(245.8,67.9),(249.6,60.8),(251.2,66.0),(197.6,67.8),(212.9,63.4),(185.8,67.7),(221.6,68.3),(255.1,63.2),
(150.7,73.1),(152.3,76.3),(155.8,71.4),(158.2,74.7),(161.9,72.1),(163.4,78.3),(166.2,73.9),(168.0,70.4),(171.7,76.6),(173.1,71.2),(176.3,74.8),(177.9,79.7),(181.4,72.8),(182.6,75.9),(186.1,71.2),(187.7,74.4),(191.2,78.3),(192.6,70.8),(195.9,76.1),(197.3,73.6),(200.9,79.9),(202.2,76.2),(205.4,71.7),(206.8,74.1),(210.1,78.4),(211.3,72.0),(214.7,75.7),(216.2,79.2),(219.6,73.3),(220.9,76.8),(224.3,71.0),(225.7,73.6),(229.0,78.7),(230.4,72.4),(233.7,75.9),(235.1,79.6),(238.4,71.1),(239.8,75.2),(243.1,77.3),(244.4,72.6),(247.9,76.4),(250.3,78.6),(252.6,70.1),(246.8,79.8),(253.8,73.6),
(148.3,76.9),(151.7,77.4),(156.2,82.5),(158.9,87.3),(160.5,84.8),(163.1,89.6),(166.8,85.1),(168.2,90.6),(171.6,82.7),(174.9,87.4),(176.3,84.9),(181.7,86.2),(184.5,79.6),(185.9,92.4),(187.2,98.6),(186.3,96.5),(190.8,84.4),(192.4,87.9),(195.6,82.1),(198.2,80.8),(200.1,83.1),(203.6,81.4),(205.7,91.8),(207.2,90.3),(209.8,89.7),(212.6,96.8),(214.9,94.6),(216.3,97.1),(218.8,82.6),(221.5,79.8),(224.3,85.8),(227.1,80.5),(229.4,86.4),(231.5,92.3),(232.8,94.7),(234.6,91.8),(236.2,89.1),(237.9,87.6),(239.8,91.7),(241.4,80.3),(245.2,85.2),(247.6,78.4),(226.8,91.1),(203.3,86.9),(195.1,77.6),(179.8,80.3),(173.2,78.4)]

D_NO = [(13.9,16.0),(15.7,19.9),(15.7,19.4),(21.8,32.6),(20.6,30.9),(27.6,30.7),(30.8,83.5),(37.2,33.4),(39.2,80.7),(53.2,67.3),(54.6,63.7),(59.0,66.3),(67.4,66.3),(68.5,17.2),(72.6,15.0),(76.4,39.0),(78.7,36.6),(94.7,73.0),(95.6,66.2),(100.2,36.1),(103.1,65.7),(104.6,68.7),(106.0,66.3),(106.0,11.6),(106.3,11.9),(108.9,41.5),(108.9,37.1),(108.9,31.9),(109.8,67.5),(111.2,72.2),(111.2,63.5),(115.6,68.4),(117.0,67.9),(116.2,59.4),(116.2,52.7),(117.0,43.2),(115.9,35.6),(117.9,36.9),(122.0,48.8),(122.0,46.4),(121.4,40.8),(122.9,56.9),(124.3,71.2),(124.9,67.9),(125.8,39.0),(127.2,42.3),(129.0,32.2),(130.1,31.0),(130.1,73.6),(130.1,89.5),(130.1,39.2),(131.9,49.3),(130.1,43.7),(133.9,43.6),(132.4,65.5),(134.5,66.5),(135.0,67.5),(134.5,14.5),(135.3,51.8),(135.9,94.7),(135.9,68.5),(136.8,69.7),(136.5,42.5),(138.0,66.3),(138.0,74.5),(139.4,30.4),(140.3,75.3),(139.4,59.9),(140.3,39.0),(141.2,38.5),(143.5,35.6),(144.1,49.8),(144.6,48.8),(145.2,94.1),(145.2,60.6),(145.5,63.5),(146.4,64.0),(146.1,51.8),(147.0,47.8),(149.0,48.8),(147.5,40.0),(148.1,31.4),(148.1,17.9),(149.0,61.6),(149.0,62.5),(149.6,53.7),(149.9,88.3),(150.5,35.6),(151.9,35.8),(150.5,35.1),(151.3,28.2),(151.9,10.8),(151.9,46.4),(152.8,44.9),(152.8,72.5),(153.4,89.8),(153.4,24.8),(153.4,23.3),(154.0,16.0),(154.0,78.2),(154.8,78.0),(154.8,75.5),(154.8,67.9),(155.1,50.3),(156.3,40.5),(156.3,64.5),(157.1,63.5),(156.3,58.6),(156.3,9.3),(157.7,40.0),(158.3,38.0),(157.7,36.6),(159.7,38.5),(160.6,37.1),(157.1,68.9),(158.6,55.2),(159.2,56.2),(159.2,13.5),(159.2,21.4),(159.2,50.3),(159.7,44.9),(160.3,77.7),(160.3,81.7),(160.6,72.8),(161.5,66.7),(163.5,67.0),(161.5,56.7),(163.5,58.1),(161.5,18.6),(162.1,33.6),(163.5,32.2),(162.1,31.2),(162.6,86.5),(163.2,11.3),(164.4,10.1),(164.4,21.9),(165.0,78.2),(165.0,73.3),(165.0,47.8),(165.6,46.4),(165.0,52.7),(165.8,51.8),(165.8,64.5),(166.4,63.5),(167.0,62.1),(166.4,67.0),(167.9,67.0),(166.4,60.6),(166.4,91.0),(167.3,43.7),(167.9,42.0),(169.3,43.1),(167.3,36.1),(169.3,35.1),(170.8,37.1),(171.3,34.1),(167.9,18.9),(168.5,3.2),(168.7,27.3),(169.3,88.5),(170.8,87.7),(172.2,88.0),(169.3,76.7),(170.2,55.2),(170.8,54.2),(170.2,56.7),(170.2,71.4),(172.2,70.4),(170.8,67.9),(173.1,68.4),(170.8,49.8),(171.6,51.0),(170.8,15.0),(171.6,85.1),(173.1,85.3),(172.2,45.9),(173.7,46.9),(172.2,19.6),(173.1,65.5),(174.3,64.5),(173.1,59.3),(174.3,57.8),(173.7,42.9),(175.1,43.9),(173.7,39.0),(175.1,38.0),(176.0,36.1),(174.6,34.1),(173.7,26.3),(175.1,72.8),(175.1,62.1),(176.6,60.6),(176.0,53.2),(177.2,52.3),(176.6,50.3),(178.0,48.8),(176.0,18.9),(177.5,18.6),(176.6,94.9),(177.2,78.7),(177.2,68.4),(178.0,67.0),(178.9,65.5),(177.2,12.5),(178.0,56.1),(178.9,57.1),(179.5,59.1),(178.6,44.9),(178.9,35.1),(179.5,36.6),(179.5,30.2),(180.0,75.8),(180.0,85.6),(181.0,50.3),(181.0,51.8),(181.0,73.3),(181.8,72.8),(181.8,63.7),(182.4,60.6),(182.4,55.2),(181.8,98.3),(182.4,42.0),(183.0,30.2),(183.9,27.5),(182.4,86.5),(182.4,85.6)]

D_AN = [(17.5,83.3),(17.5,68.4),(23.6,70.1),(23.6,28.9),(24.6,47.4),(30.3,20.4),(30.3,18.9),(30.3,19.9),(39.4,19.4),(46.5,23.3),(51.6,54.7),(51.6,50.0),(65.0,65.7),(65.7,86.1),(68.1,99.0),(68.4,36.1),(72.5,86.3),(74.1,40.5),(74.1,93.9),(74.1,96.9),(80.9,35.9),(82.6,67.9),(83.2,85.3),(84.3,92.2),(85.9,93.7),(84.9,50.0),(85.3,96.4),(86.9,61.1),(86.9,66.5),(87.6,84.6),(88.6,93.9),(89.3,92.2),(90.0,89.0),(89.3,82.6),(90.7,82.2),(91.0,99.5),(92.0,97.8),(92.0,67.9),(95.4,92.0),(97.1,90.5),(99.4,90.5),(102.1,90.5),(96.1,53.7),(98.8,48.0),(98.8,95.4),(99.4,66.5),(100.1,82.2),(102.8,81.0),(103.8,92.0),(104.8,42.9),(106.2,71.4),(106.2,66.0),(108.9,65.5),(111.2,66.5),(108.9,94.7),(111.2,95.1),(112.9,36.6),(112.2,22.4),(114.6,65.0),(115.3,66.0),(118.0,87.5),(118.0,98.5),(119.6,88.2),(122.3,73.8),(124.0,91.5),(126.4,94.9),(125.7,99.0),(125.7,88.5),(127.0,86.8),(126.4,37.3),(129.8,37.5),(128.0,90.8),(130.4,90.5),(132.7,90.6),(135.1,90.8),(137.8,91.8),(129.8,66.7),(129.8,65.5),(130.4,81.0),(132.1,81.2),(131.4,57.6),(133.1,48.3),(136.5,83.6),(135.8,78.7),(138.2,70.4),(139.2,49.3),(139.9,16.5),(140.5,15.8),(139.9,39.7),(141.6,89.0),(141.6,85.6),(143.9,17.0),(143.9,58.1),(143.9,37.1),(144.3,36.1),(145.9,41.0),(146.6,92.0),(145.9,90.0),(148.3,59.1),(148.3,71.2),(150.0,71.6),(151.0,40.5),(151.7,93.9),(153.4,91.5),(151.7,89.0),(152.0,79.2),(153.4,55.7),(153.4,50.0),(155.0,65.5),(156.1,64.5),(157.4,37.1),(156.7,27.3),(157.7,16.5),(159.4,89.5),
(153.1,99.4),(154.6,96.2),(156.4,94.9),(157.0,98.1),(158.9,93.1),(159.5,90.9),(160.3,96.6),(161.2,88.4),(162.6,86.7),(163.9,91.7),(164.3,85.2),(165.7,97.3),(166.1,89.9),(167.4,93.8),(168.2,87.1),(168.9,99.6),(169.8,84.6),(170.6,91.0),(171.5,95.7),(172.3,88.8),(173.1,86.0),(173.9,93.2),(174.8,97.8),(175.6,90.4),(176.4,84.1),(177.3,87.8),(178.1,92.6),(179.0,95.0),(179.8,89.3),(180.6,86.4),(181.5,99.1),(182.4,83.4),(183.2,90.1),(184.1,94.2),(185.0,87.3),(185.9,96.8),(186.7,85.6),(187.5,91.9),(188.4,88.0),(189.3,93.7),(190.2,84.9),(191.1,95.3),(192.0,89.6),(193.0,86.9),(193.9,92.3),(194.8,83.8),(196.2,94.1),(197.4,88.7),(198.6,85.0),(199.7,91.4),(200.9,87.6),(158.1,86.2),(155.7,88.9),(167.0,82.5),(175.1,81.7),(183.9,81.2),(188.9,79.4),(170.9,82.9),(178.8,83.0),(190.6,82.1),(197.0,81.9),(152.2,90.3),(162.0,94.5),(180.1,97.2),(186.2,98.7),(177.0,99.2),(195.5,97.9),
(193.8,71.4),(195.5,69.9),(197.2,68.4),(198.9,67.0),(197.8,65.5),(196.5,64.0),(199.9,62.5),(198.5,61.1),(200.5,59.6),(197.2,58.1),(198.9,56.7),(201.2,55.2),(196.5,53.7),(199.2,52.3),(197.2,50.8),(195.5,48.8),(198.2,47.4),(200.5,45.9),(194.5,43.9),(192.1,42.9),(196.5,42.5),(198.9,41.5),(193.1,40.5),(197.2,39.5),(193.8,38.5),(190.4,37.5),(195.5,36.6),(198.9,35.6),(192.1,34.6),(188.7,33.6),(193.8,32.6),(197.2,31.2),(187.1,30.2),(185.4,28.2),(183.7,26.3),(182.0,24.8),(180.3,23.3),(178.6,21.9),(177.6,20.4),(180.3,19.4),(185.4,18.9),(182.0,17.5),(179.6,16.0),(183.7,14.5),(181.0,13.0),(178.6,11.6),(182.0,9.6),(179.6,8.1),(185.4,7.6),(194.5,4.7),(203.2,1.8),(203.9,12.5),(205.6,15.5),(203.2,17.5),(204.5,19.4),(202.2,20.9),(207.3,20.9),(203.9,25.3),(201.2,27.3),(198.9,29.2),(202.2,25.3),(197.2,21.4),
(200.5,67.5),(202.2,66.3),(203.9,65.0),(205.6,63.5),(203.2,62.1),(201.5,60.6),(203.9,58.6),(207.3,60.6),(202.2,57.2),(204.5,54.7),(203.2,52.7),(205.6,51.8),(200.5,49.3),(203.9,66.7),(199.9,64.5),(202.2,63.0),(207.3,58.1),(206.6,55.2),
(180.3,41.0),(183.0,39.5),(185.4,42.0),(187.1,40.5),(188.7,39.0),(184.4,37.5),(186.4,36.1),(182.0,35.1),(187.7,34.6),(189.8,36.1),(183.7,33.1),(178.6,34.1),(176.3,31.2),(180.3,28.7),(185.4,31.7),(170.2,29.7),(171.9,26.3),(173.6,24.8),(175.3,22.8),(173.6,18.4),(170.2,16.0),(168.5,13.5),(180.3,11.6),(176.9,9.6),
(170.2,56.2),(176.9,58.6),(183.0,65.5),(188.7,60.6),(190.4,63.5),(192.1,64.5),(187.1,56.7),(184.4,52.7),(191.1,50.8),(187.1,48.8),(182.0,47.8),(178.6,45.9),(173.6,44.9),(170.2,41.5),(176.3,43.4),(166.8,38.0),(163.5,36.1),(164.5,35.1),(168.5,39.5),(165.2,31.2),(161.8,28.2),(162.8,25.3),(158.4,16.0),(166.8,17.0),(183.7,5.7),(185.4,11.1),(190.4,12.5)]

E_NO = [(20.7,58.7),(24.7,35.3),(34.9,54.3),(37.2,14.8),(37.4,15.0),(43.3,30.9),(43.3,29.8),(45.9,15.9),(48.5,30.4),(58.5,17.3),(67.1,31.7),(71.3,34.4),(72.6,32.7),(76.8,41.5),(76.6,42.4),(81.3,32.9),(84.4,27.2),(85.0,36.3),(85.8,35.6),(86.3,30.2),(87.1,32.9),(89.7,32.9),(90.2,90.4),(93.6,33.7),(94.9,32.5),(94.9,26.3),(101.4,36.6),(103.5,35.6),(104.2,32.2),(105.5,32.2),(107.3,32.2),(103.1,65.9),(110.1,30.0),(108.8,39.5),(110.7,39.3),(112.0,39.5),(110.7,48.5),(112.8,47.8),(114.6,47.5),(112.8,57.6),(114.1,66.8),(115.9,34.1),(117.5,33.5),(119.9,33.5),(121.2,34.4),(122.5,33.2),(118.5,40.7),(119.9,40.5),(121.7,40.7),(119.9,56.9),(122.0,45.4),(122.5,49.8),(123.8,48.5),(125.1,47.5),(126.4,50.2),(127.2,48.8),(123.0,66.8),(124.2,65.2),(124.3,89.8),(124.3,18.8),(124.8,29.3),(125.9,42.4),(124.9,32.7),(129.0,37.1),(130.3,36.6),(129.8,3.6),(130.3,14.0),(131.1,48.8),(133.0,48.3),(131.7,30.2),(131.7,27.8),(133.5,33.5),(134.3,33.5),(135.6,32.5),(134.5,52.9),(135.1,44.9),(135.6,17.3),(135.1,15.1),(136.9,41.0),(138.2,40.0),(137.4,64.1),(138.2,64.4),(139.0,63.4),(138.2,33.7),(139.5,33.2),(141.4,33.9),(139.0,27.0),(139.5,52.2),(139.5,57.6),(140.3,56.6),(140.0,68.0),(141.6,67.8),(140.3,61.0),(140.8,65.4),(142.1,65.9),(143.5,66.3),(142.1,40.5),(142.9,38.2),(142.7,14.8),(143.5,62.9),(144.8,64.4),(144.8,57.1),(145.6,32.2),(145.6,71.4),(146.1,47.3),(146.6,59.5),(147.9,59.0),(149.0,60.2),(147.4,83.9),(147.4,57.4),(148.7,57.1),(150.0,57.3),(147.9,15.3),(148.0,63.1),(149.5,65.9),(149.5,67.8),(148.7,64.4),(149.2,95.3),(149.5,85.4),(150.0,79.5),(150.5,75.4),(151.3,38.1),(151.8,41.5),(152.6,42.0),(153.2,42.6),(151.8,28.5),(152.1,31.9),(152.6,62.0),(153.9,59.0),(152.6,38.7),(153.9,16.1),(155.3,54.1),(155.8,50.2),(156.0,49.8),(156.8,46.8),(156.6,79.5),(158.7,65.9),(160.5,28.6),(160.0,21.7),(137.0,68.3),(138.1,66.8),(138.9,67.3),(139.5,68.8),(139.5,55.1),(142.1,58.0),(143.5,55.1),(144.8,54.0)]

E_AN = [(13.8,59.8),(30.5,10.0),(35.7,8.0),(37.1,73.5),(37.7,56.9),(37.1,20.5),(38.5,15.6),(39.3,15.1),(42.6,21.7),(47.6,8.6),(49.0,69.6),(49.6,47.1),(51.8,60.0),(53.2,58.7),(52.3,20.5),(54.3,0.7),(55.4,54.4),(56.8,31.4),(57.3,64.9),(57.9,19.0),(58.7,18.5),(60.9,29.3),(65.1,49.5),(66.5,49.1),(67.0,62.9),(68.4,63.9),(69.0,71.9),(72.0,43.2),(72.6,86.1),(73.1,33.2),(74.8,49.8),(75.9,50.2),(76.7,49.8),(74.8,73.0),(78.1,73.7),(75.3,67.5),(76.7,59.7),(75.3,56.3),(75.9,44.4),(80.9,50.4),(82.2,50.7),(83.6,50.2),(79.5,72.5),(80.0,90.4),(82.8,79.7),(83.6,57.3),(82.8,32.9),(85.6,25.4),(87.0,64.4),(87.8,63.9),
(91.9,99.0),(93.3,98.0),(94.7,97.1),(93.9,95.6),(94.7,94.1),(96.1,95.1),(97.5,95.6),(96.9,93.7),(94.7,92.7),(93.6,91.2),(94.7,89.8),(96.1,88.8),(94.2,87.3),(95.3,85.9),(96.9,84.9),(94.7,84.4),(97.5,86.3),(98.9,87.3),(100.3,85.4),(98.9,89.3),(93.3,79.0),(93.9,73.7),(94.2,65.7),(94.2,63.4),(95.5,62.9),(95.3,52.2),(92.8,58.5),(96.1,58.5),(93.9,35.1),(95.5,28.3),(95.3,19.5),(98.0,71.7),(98.9,70.7),(101.1,64.1),(99.7,63.9),(101.6,86.8),(103.0,87.3),(104.4,86.1),(105.8,90.0),(105.8,82.4),(107.2,79.5),(102.5,82.4),(101.1,83.9),(105.8,85.1),
(106.2,24.1),(107.5,21.8),(108.3,17.2),(106.9,14.5),(109.1,12.3),(107.8,9.6),(110.4,7.4),(108.6,4.8),(109.9,2.1),(111.2,0.8),(112.3,16.4),(111.7,19.7),(113.5,22.6),(112.8,13.1),(114.1,10.2),(113.3,6.3),(115.2,3.4),(114.6,20.8),(116.3,23.9),(115.8,17.8),(117.1,14.4),(116.5,11.6),(118.2,8.7),(117.6,5.1),(119.3,1.6),(118.8,19.3),(120.4,21.7),(119.7,16.1),(121.3,12.9),(120.9,9.2),(122.1,6.8),(121.6,3.9),(123.4,18.2),(124.2,14.7),(122.8,21.1),(125.3,10.8),(124.7,7.6),(126.1,17.1),(127.2,4.5),(126.8,12.2),(128.5,9.9),(129.6,2.7),(130.4,6.1),(131.2,1.4),(132.1,3.3),(133.5,0.6),(130.7,10.4),(132.8,11.7),(134.2,9.5),(131.9,17.6),(129.2,17.2),(108.8,26.1),(110.9,25.2),(107.1,7.1),(110.2,14.9),(113.9,24.6),(109.5,19.1),(111.5,5.2),(114.9,13.6),(116.9,2.4),(119.9,11.8),(120.2,19.9),(117.4,21.5),(122.9,16.8),
(109.4,40.3),(110.6,38.2),(112.3,35.1),(113.7,33.4),(115.2,36.2),(116.8,34.8),(118.1,37.9),(119.5,35.6),(121.2,36.8),(122.6,33.9),(124.3,37.3),(126.1,34.2),(127.8,36.9),(129.9,35.7),(131.2,37.8),(132.6,34.6),(134.1,33.1),(135.7,38.9),(137.4,34.4),(138.9,40.2),(140.3,36.1),(141.8,33.6),(143.5,34.9),(145.1,35.8),(146.7,33.8),(148.2,36.4),(150.1,35.1),(151.6,33.2),(153.3,36.9),(154.9,34.1),(156.4,31.8),(158.1,35.4),(159.7,33.6),(161.4,38.5),(162.8,34.7),(164.5,39.3),(166.2,40.6),(168.1,36.5),(170.3,37.9),(172.6,32.6),
(109.1,47.8),(110.5,49.7),(112.7,48.2),(114.9,47.5),(119.6,49.9),(123.1,48.6),(124.8,46.2),(125.9,44.8),(130.7,44.1),(133.4,40.2),(137.3,41.1),(139.6,45.7),(142.2,50.1),(144.6,49.8),(147.3,50.3),(150.2,46.8),(152.4,45.3),(155.7,44.1),(157.2,41.6),(159.4,43.2),(162.1,40.9),(164.6,42.3),(166.9,46.1),(168.4,40.7),(171.7,48.2),(173.6,43.8),(175.2,45.4),(160.3,49.2),(163.5,47.6),(158.4,48.1),(155.1,48.9),
(104.9,54.5),(107.2,53.8),(108.3,63.2),(110.1,62.5),(112.9,65.8),(115.7,61.4),(118.3,62.9),(120.6,61.8),(122.4,64.9),(124.8,66.1),(126.4,66.3),(128.2,62.7),(129.6,52.1),(130.8,61.4),(132.5,61.5),(134.8,65.2),(136.6,63.9),(138.8,56.4),(140.2,65.7),(141.9,64.6),(143.4,60.8),(145.2,65.3),(146.7,62.4),(148.5,67.1),(150.1,68.9),(151.4,58.8),(152.6,62.7),(153.8,59.6),(155.1,66.8),(156.7,60.3),(158.2,62.9),(159.6,58.4),(160.9,67.7),(162.3,64.3),(163.8,61.9),(165.4,56.8),(166.9,63.5),(168.2,69.1),(169.8,66.2),(171.3,60.9),(172.5,65.8),(174.1,57.7),(175.6,67.5),(170.6,56.1),(167.4,68.4),(161.7,51.6),(154.2,55.4),(147.9,69.4),(143.1,67.3),(137.9,61.2),(127.3,54.2),
(103.6,73.3),(105.9,79.4),(108.1,80.5),(110.4,86.3),(113.6,90.9),(115.9,95.8),(118.2,86.6),(120.1,84.1),(121.5,95.4),(123.7,94.1),(125.2,87.5),(126.4,86.2),(127.9,90.6),(129.8,94.8),(131.6,90.7),(133.2,86.1),(135.4,94.9),(138.1,76.1),(139.4,70.9),(141.6,84.5),(143.2,80.1),(145.3,87.6),(147.6,89.3),(148.9,98.6),(150.8,73.4),(152.7,83.2),(153.9,77.9),(155.3,75.1),(156.8,69.7),(158.1,92.8),(159.6,98.3),(161.3,81.1),(163.2,86.3),(165.8,88.9),(167.9,89.5),(169.4,75.9),(170.6,83.9),(172.3,77.3),(174.8,86.9),(175.7,83.2),(152.4,94.6),(146.2,76.9),(136.8,72.2),(164.1,73.6),(171.2,73.8),
(126.4,27.6),(129.8,23.2),(132.7,26.8),(135.6,25.1),(138.2,21.3),(140.1,20.7),(142.4,14.9),(144.8,18.7),(146.3,19.8),(148.1,16.1),(149.5,9.8),(150.7,14.2),(152.2,11.6),(153.5,20.7),(155.2,19.4),(156.8,17.4),(157.9,7.9),(159.6,15.3),(160.8,21.3),(162.3,10.9),(163.5,5.7),(165.2,16.4),(166.6,12.4),(167.9,14.8),(169.3,16.1),(170.6,15.2),(172.3,8.4),(174.1,13.8),(175.4,16.9),(157.2,24.8),(161.5,27.9),(164.8,25.5),(168.7,28.2),(153.1,31.3),(144.9,31.6),(139.2,2.8),(136.4,9.4),(142.7,5.3),(155.6,3.2),(162.9,0.4),(169.9,0.5),(150.9,1.9),(148.7,21.9),(134.6,12.8),(137.8,14.1),(141.3,10.7)]

# ---------------- styling ----------------
RED = "#ff0000"
BLUE = "#0000ff"
SERIF = "Liberation Serif"
TXT = "#333333"
AXC = "#111111"
PAD = 14


def styled_axis(step):
    ax = LinearAxis(ticker=SingleIntervalTicker(interval=step, num_minor_ticks=2))
    ax.axis_line_color = AXC
    ax.major_tick_line_color = AXC
    ax.minor_tick_line_color = AXC
    ax.major_tick_in = 4
    ax.major_tick_out = 0
    ax.minor_tick_in = 2
    ax.minor_tick_out = 0
    ax.major_label_text_font = SERIF
    ax.major_label_text_font_size = "16px"
    ax.major_label_text_color = TXT
    ax.axis_label_text_font = SERIF
    ax.axis_label_text_font_size = "17px"
    ax.axis_label_text_font_style = "normal"
    ax.axis_label_text_color = TXT
    return ax


def blank_labels(ax, values):
    ax.major_label_text_font_size = "0px"
    ax.major_label_standoff = 0
    ax.major_label_overrides = {v: "" for v in values}


def base_fig(w, h, bl, br, bt, bb, xend, margin_left):
    p = figure(width=w, height=h, x_range=Range1d(0, xend), y_range=Range1d(0, 100),
               output_backend="svg", toolbar_location=None,
               x_axis_location=None, y_axis_location=None,
               min_border_left=bl, min_border_right=br, min_border_top=bt, min_border_bottom=bb,
               margin=(0, 0, 0, margin_left))
    p.xgrid.visible = False
    p.ygrid.visible = False
    p.background_fill_color = None
    p.border_fill_color = None
    return p


def make_panel(pts, color, label, xend, step, side, frame_w, h, bl, br, bt, bb, hide0, leg,
               ylab=0, bstd=(3, 4), margin_left=0):
    w = bl + frame_w + br
    fh = h - bt - bb
    p = base_fig(w, h, bl, br, bt, bb, xend, margin_left)
    p.outline_line_color = AXC

    xb = styled_axis(step)
    xb.major_label_standoff = bstd[0]
    xb.axis_label = X_TITLE
    xb.axis_label_standoff = bstd[1]
    if hide0:
        xb.major_label_overrides = {0: ""}
    p.add_layout(xb, "below")
    xt = styled_axis(step)
    blank_labels(xt, list(range(0, 301, step)))
    p.add_layout(xt, "above")

    if side == "left":
        yl = styled_axis(20)
        yl.major_tick_in = 0
        yl.major_tick_out = 4
        yl.minor_tick_in = 0
        yl.minor_tick_out = 2
        yl.major_label_standoff = 0
        yl.axis_label = Y_TITLE
        yl.axis_label_standoff = ylab
        p.add_layout(yl, "left")
        yr = styled_axis(20)
        blank_labels(yr, list(range(0, 101, 20)))
        p.add_layout(yr, "right")
    else:
        yl = styled_axis(20)
        blank_labels(yl, list(range(0, 101, 20)))
        p.add_layout(yl, "left")
        yr = styled_axis(20)
        yr.major_label_standoff = 4
        p.add_layout(yr, "right")

    xs = [q[0] for q in pts]
    ys = [q[1] for q in pts]
    r = p.scatter(x=xs, y=ys, marker="square", size=4.5, fill_color=color, line_color=None)

    mx, my, tx = leg
    gw = 11
    L = Legend(items=[LegendItem(label=label, renderers=[r])], location=(mx - gw / 2, fh - my - 9.5))
    L.glyph_width = gw
    L.glyph_height = 19
    L.label_height = 19
    L.label_width = 10
    L.label_standoff = int(round(tx - mx - gw / 2))
    L.padding = 0
    L.margin = 0
    L.spacing = 0
    L.border_line_color = None
    L.background_fill_color = None
    L.label_text_font = SERIF
    L.label_text_font_size = "17px"
    L.label_text_color = TXT
    p.add_layout(L)
    return p


def right_title(h, bt, bb, margin_left, width=21):
    """Y-axis title of the right-hand axis of an 'Anchor' panel (reads bottom-to-top)."""
    p = base_fig(width, h, 19, 0, bt, bb, 1, margin_left)
    p.outline_line_color = None
    ax = LinearAxis(ticker=FixedTicker(ticks=[]), axis_label=Y_TITLE)
    ax.axis_line_color = None
    ax.major_tick_line_color = None
    ax.minor_tick_line_color = None
    ax.major_tick_in = 0
    ax.major_tick_out = 0
    ax.minor_tick_in = 0
    ax.minor_tick_out = 0
    ax.major_label_text_font_size = "0px"
    ax.major_label_standoff = 0
    ax.axis_label_standoff = 0
    ax.axis_label_text_font = SERIF
    ax.axis_label_text_font_size = "17px"
    ax.axis_label_text_font_style = "normal"
    ax.axis_label_text_color = TXT
    p.add_layout(ax, "left")
    return p


def letter_row(items, h):
    kids = []
    x = 0
    for text, left in items:
        html = ("<div style=\"font-family:'Liberation Sans',Arial,sans-serif;font-weight:bold;"
                "font-size:19px;line-height:%dpx;height:%dpx;color:#000;margin:0;padding:0\">%s</div>"
                % (h, h, text))
        kids.append(Div(text=html, width=20, height=h, margin=(0, 0, 0, left - x)))
        x = left + 20
    return row(*kids)


NO, AN = SERIES_LABELS
LA, LB, LC, LD, LE = PANEL_LETTERS

# Row 1: A and B
H1, T1, B1 = 395, 10, 47
a_l = make_panel(A_NO, RED, NO, 180, 30, "left", 220, H1, 56, PAD, T1, B1, False, (22.4, 20, 45.5), ylab=-4)
a_r = make_panel(A_AN, BLUE, AN, 180, 30, "right", 221, H1, PAD, 45, T1, B1, True, (24.8, 17.6, 48.9), margin_left=-2 * PAD)
a_t = right_title(H1, T1, B1, -19)
b_l = make_panel(B_NO, RED, NO, 205, 30, "left", 221, H1, 50, PAD, T1, B1, False, (23.9, 20, 47.7), ylab=-7, margin_left=-14)
b_r = make_panel(B_AN, BLUE, AN, 240, 30, "right", 223, H1, PAD, 40, T1, B1, False, (20.7, 18, 46.3), margin_left=-2 * PAD)
b_t = right_title(H1, T1, B1, -21)

# Row 2: C and D
H2, T2, B2 = 404, 20, 45
c_l = make_panel(C_NO, RED, NO, 227, 30, "left", 223, H2, 49, PAD, T2, B2, True, (18.3, 16.7, 42.1), ylab=-7)
c_r = make_panel(C_AN, BLUE, AN, 270, 50, "right", 222, H2, PAD, 48, T2, B2, True, (20.4, 19, 44.1), margin_left=-2 * PAD)
c_t = right_title(H2, T2, B2, -19)
d_l = make_panel(D_NO, RED, NO, 190, 30, "left", 223, H2, 48, PAD, T2, B2, False, (15.1, 32.3, 38.6), ylab=-6, margin_left=-14)
d_r = make_panel(D_AN, BLUE, AN, 220, 30, "right", 223, H2, PAD, 40, T2, B2, True, (11, 31.7, 35.8), margin_left=-2 * PAD)
d_t = right_title(H2, T2, B2, -21)

# Row 3: E
H3, T3, B3 = 389, 10, 41
e_l = make_panel(E_NO, RED, NO, 170, 30, "left", 224, H3, 48, PAD, T3, B3, False, (18.2, 18.3, 42), ylab=-7, bstd=(4, 1))
e_r = make_panel(E_AN, BLUE, AN, 180, 30, "right", 224, H3, PAD, 45, T3, B3, True, (19.6, 20, 43.7), bstd=(4, 1), margin_left=-2 * PAD)
e_t = right_title(H3, T3, B3, -21)

layout = column(
    letter_row([(LA, 3), (LB, 530)], 20),
    row(a_l, a_r, a_t, b_l, b_r, b_t),
    letter_row([(LC, 1), (LD, 530)], 24),
    row(c_l, c_r, c_t, d_l, d_r, d_t),
    letter_row([(LE, 270)], 44),
    row(Spacer(width=263, height=H3), e_l, e_r, e_t),
)

open("out.html", "w").write(file_html(layout, INLINE, title="Y coordinate vs time"))
